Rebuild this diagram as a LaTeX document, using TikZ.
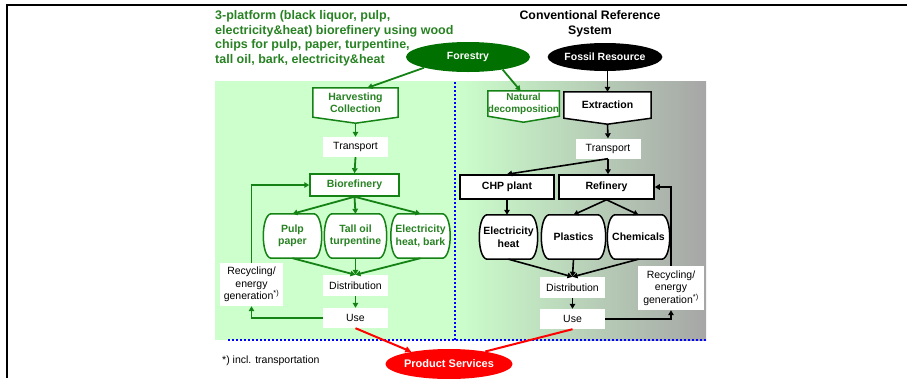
\documentclass[tikz,border=0pt]{standalone}
\usepackage{fontspec}
\setmainfont{Liberation Sans}
\usetikzlibrary{calc,arrows.meta,shapes.geometric}
\pgfdeclarelayer{back}
\pgfdeclarelayer{mid}
\pgfsetlayers{back,mid,main}

\definecolor{gtext}{RGB}{40,130,35}
\definecolor{gline}{RGB}{20,130,20}
\definecolor{forestfill}{RGB}{0,112,0}
\definecolor{lightgreen}{RGB}{204,255,204}
\definecolor{greyright}{RGB}{166,166,166}

% box with a pointed bottom edge
\newcommand{\drawpenta}[2]{%
  \draw[#2] (#1.north west) -- (#1.north east) -- (#1.south east)
    -- ([yshift=-6pt]#1.south) -- (#1.south west) -- cycle;}
% barrel-shaped product box
\newcommand{\drawbarrel}[2]{%
  \draw[#2] ([xshift=6pt]#1.north west) -- ([xshift=-6pt]#1.north east)
    .. controls ([xshift=4pt,yshift=-2pt]#1.north east) and ([xshift=4pt,yshift=2pt]#1.south east)
    .. ([xshift=-6pt]#1.south east) -- ([xshift=6pt]#1.south west)
    .. controls ([xshift=-4pt,yshift=2pt]#1.south west) and ([xshift=-4pt,yshift=-2pt]#1.north west)
    .. cycle;}

\begin{document}
\begin{tikzpicture}[x=1pt,y=-1pt,
  base/.style={align=center, inner sep=0pt, font=\fontsize{10.5}{12.5}\selectfont},
  gbox/.style={base, font=\fontsize{10.5}{12.5}\selectfont\bfseries, text=gtext},
  kbox/.style={base, font=\fontsize{10.5}{12.5}\selectfont\bfseries, text=black},
  wbox/.style={base, fill=white, minimum width=65pt},
  gshape/.style={draw=gline, fill=white, line width=1.5pt, line join=miter},
  kshape/.style={draw=black, fill=white, line width=1.5pt, line join=miter},
  oval/.style={ellipse, inner sep=0pt, font=\fontsize{10.5}{12.5}\selectfont\bfseries, text=white},
  garrow/.style={draw=gline, line width=1.8pt, -{Triangle[length=5pt,width=5.5pt]}},
  karrow/.style={draw=black, line width=1.6pt, -{Triangle[length=5pt,width=5.5pt]}},
  rarrow/.style={draw=red, line width=2pt},
  dotline/.style={blue, line width=2pt, dash pattern=on 2pt off 2pt}
]
\useasboundingbox (0,0) rectangle (907,378);

% frame
\draw[line width=2.4pt] (7,378) -- (7,5) -- (907,5);

% system backgrounds
\begin{pgfonlayer}{back}
  \fill[lightgreen] (215,81) rectangle (455,340);
  \shade[left color=lightgreen, right color=greyright] (455,81) rectangle (706,340);
  \draw[dotline] (455,82) -- (455,340);
  \draw[dotline] (228,340) -- (706,340);
\end{pgfonlayer}

% headings
\node[anchor=north west, align=left, inner sep=0pt, text=gtext,
      font=\fontsize{12.5}{14.8}\selectfont\bfseries] (title) at (215,10)
  {3-platform (black liquor, pulp,\\electricity\&heat) biorefinery using wood\\chips for pulp, paper, turpentine,\\tall oil, bark, electricity\&heat};
\node[align=center, inner sep=0pt, font=\fontsize{12.3}{15}\selectfont\bfseries] (conv) at (590,23.5)
  {Conventional Reference\\System};

% resources
\node[oval, fill=forestfill, minimum width=124pt, minimum height=30pt] (forest) at (468,57) {Forestry};
\node[oval, fill=black, minimum width=104pt, minimum height=28pt] (fossil) at (605,57) {Fossil Resource};
\node[oval, fill=red, minimum width=104pt, minimum height=30pt, font=\fontsize{11}{13}\selectfont\bfseries] (prod) at (449,364) {Product Services};

% biorefinery chain
\node[gbox, minimum width=85pt, minimum height=29pt] (harv) at (355.5,102.5) {Harvesting\\Collection};
\node[gbox, minimum width=66pt, minimum height=25pt, font=\fontsize{10}{12}\selectfont\bfseries] (nat) at (523.5,103.5) {Natural\\decomposition};
\node[wbox, minimum height=20pt] (trL) at (355.5,147) {Transport};
\node[gbox, draw=gline, fill=white, line width=1.5pt, minimum width=89pt, minimum height=22pt] (bio) at (354.5,185) {Biorefinery};
\node[gbox, minimum width=55pt, minimum height=44pt] (pulp) at (292.5,236) {Pulp\\paper};
\node[gbox, minimum width=59pt, minimum height=44pt] (tall) at (355.5,236) {Tall oil\\turpentine};
\node[gbox, minimum width=56pt, minimum height=44pt] (elecL) at (420.5,236) {Electricity\\heat, bark};
\node[wbox, minimum height=21pt] (distL) at (355.5,285.5) {Distribution};
\node[wbox, minimum height=20pt] (useL) at (355.5,318) {Use};
\node[wbox, minimum width=63pt, minimum height=43pt] (recL) at (251.5,284.5) {Recycling/\\energy\\generation\textsuperscript{*)}};

% conventional chain
\node[kbox, minimum width=87pt, minimum height=26pt] (extr) at (607.5,105) {Extraction};
\node[wbox, minimum height=20pt] (trR) at (608,148.5) {Transport};
\node[kbox, draw, fill=white, line width=1.5pt, minimum width=94pt, minimum height=24pt] (chp) at (507,187) {CHP plant};
\node[kbox, draw, fill=white, line width=1.5pt, minimum width=95pt, minimum height=24pt] (ref) at (606.5,187) {Refinery};
\node[kbox, minimum width=55pt, minimum height=44pt] (elecR) at (508.5,237) {Electricity\\heat};
\node[kbox, minimum width=61pt, minimum height=44pt] (plas) at (573.5,237) {Plastics};
\node[kbox, minimum width=59pt, minimum height=44pt] (chem) at (638.5,237) {Chemicals};
\node[wbox, minimum height=21pt] (distR) at (572.5,287.5) {Distribution};
\node[wbox, minimum height=20pt] (useR) at (572.5,319) {Use};
\node[wbox, minimum width=66pt, minimum height=44pt] (recR) at (671,288) {Recycling/\\energy\\generation\textsuperscript{*)}};

\node[base, anchor=west] (note) at (222,361) {*) incl. transportation};

% outlines behind the texts
\begin{pgfonlayer}{mid}
  \drawpenta{harv}{gshape}
  \drawpenta{nat}{gshape}
  \drawpenta{extr}{kshape}
  \drawbarrel{pulp}{gshape}
  \drawbarrel{tall}{gshape}
  \drawbarrel{elecL}{gshape}
  \drawbarrel{elecR}{kshape}
  \drawbarrel{plas}{kshape}
  \drawbarrel{chem}{kshape}
\end{pgfonlayer}

% biorefinery flows
\draw[garrow] (forest.south west) -- ([xshift=12pt]harv.north);
\draw[garrow] (forest.-20) -- ([xshift=-3pt]nat.north);
\draw[garrow] ([yshift=-6pt]harv.south) -- (trL.north);
\draw[garrow] (trL.south) -- (bio.north);
\draw[garrow] (bio.south) -- (pulp.north);
\draw[garrow] (bio.south) -- (tall.north);
\draw[garrow] (bio.south) -- (elecL.north);
\draw[garrow] (pulp.south) -- (distL.north);
\draw[garrow] (tall.south) -- (distL.north);
\draw[garrow] (elecL.south) -- (distL.north);
\draw[garrow] (distL.south) -- (useL.north);
\draw[garrow] (useL.west) -| (recL.south);
\draw[garrow] (recL.north) |- (bio.west);

% conventional flows
\draw[karrow] (fossil.south -| extr.north) -- (extr.north);
\draw[karrow] ([yshift=-6pt]extr.south) -- (trR.north);
\draw[karrow] (trR.south) -- (chp.north);
\draw[karrow] (trR.south) -- (trR.south |- ref.north);
\draw[karrow] (chp.south) -- (chp.south |- elecR.north);
\draw[karrow] (ref.south) -- (plas.north);
\draw[karrow] (ref.south) -- (chem.north);
\draw[karrow] (elecR.south) -- (distR.north);
\draw[karrow] (plas.south) -- (distR.north);
\draw[karrow] (chem.south) -- (distR.north);
\draw[karrow] (distR.south) -- (useR.north);
\draw[karrow] (useR.east) -| (recR.south);
\draw[karrow] (recR.north) |- (ref.east);

% product services
\draw[rarrow, -{Triangle[length=6pt,width=6pt]}] (useL.south) -- (prod.162);
\draw[rarrow] (useR.south) -- (prod.19);
\end{tikzpicture}
\end{document}
